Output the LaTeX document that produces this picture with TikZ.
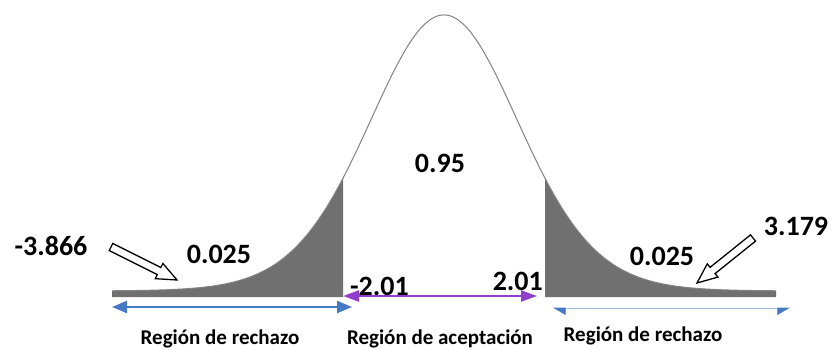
\documentclass[tikz,border=0pt]{standalone}
\usepackage{fontspec}
\setmainfont{Carlito}
\usetikzlibrary{arrows.meta,calc}
\definecolor{tailgray}{RGB}{112,112,112}
\definecolor{edge}{RGB}{130,130,130}
\definecolor{bluearr}{RGB}{70,120,195}
\definecolor{lightblue}{RGB}{150,190,230}
\definecolor{purplearr}{RGB}{146,62,204}
\tikzset{
  bigtxt/.style={inner sep=0pt, font=\fontsize{28}{28}\selectfont\bfseries},
  regtxt/.style={inner sep=0pt, anchor=base, font=\fontsize{21}{21}\selectfont\bfseries},
  hollow/.style={draw=black, fill=white, line width=1.3pt, line join=miter},
  declare function={bell(\t)=291-276*exp(-10.5*ln(1+((\t-444)/75.7)^2/20));}
}
\begin{document}
\begin{tikzpicture}[x=1pt,y=-1pt]
\useasboundingbox (0,0) rectangle (833,350);
% shaded tails
\fill[tailgray] (112,297) -- plot[domain=112:343,samples=120] (\x,{bell(\x)}) -- (343,297) -- cycle;
\fill[tailgray] (545,297) -- plot[domain=545:776,samples=120] (\x,{bell(\x)}) -- (776,297) -- cycle;
% bell outline
\draw[edge, line width=1pt] plot[domain=112:776,samples=300] (\x,{bell(\x)});
% labels
\node[bigtxt, anchor=base] (vl) at (51,255) {-3.866};
\node[bigtxt, anchor=base] (pl) at (219,263) {0.025};
\node[bigtxt, anchor=base] (pc) at (440,172) {0.95};
\node[bigtxt, anchor=base] (vr) at (796,235) {3.179};
\node[bigtxt, anchor=base] (pr) at (662,265) {0.025};
\node[bigtxt, anchor=base east] (cl) at (409,295) {-2.01};
\node[bigtxt, anchor=base east] (cr) at (543,290) {2.01};
\node[regtxt] (rl) at (220,344) {Región de rechazo};
\node[regtxt] (ra) at (440,344) {Región de aceptación};
\node[regtxt] (rr) at (643,341) {Región de rechazo};
% hollow arrows
\coordinate (lS) at (111,247); \coordinate (lT) at (177,280);
\coordinate (rS) at (753,238); \coordinate (rT) at (697,283);
\foreach \S/\T in {lS/lT, rS/rT}{
  \coordinate (H) at ($(\T)!20pt!(\S)$);
  \draw[hollow] (\T) -- ($(H)!8.5pt!90:(\T)$) -- ($(H)!4pt!90:(\T)$) -- ($(\S)!4pt!90:(\T)$)
    -- ($(\S)!4pt!-90:(\T)$) -- ($(H)!4pt!-90:(\T)$) -- ($(H)!8.5pt!-90:(\T)$) -- cycle;
}
% region arrows
\coordinate (bl1) at (112,307); \coordinate (bl2) at (352,307);
\draw[bluearr, line width=2.3pt, {Triangle[length=15pt,width=12pt]}-{Triangle[length=15pt,width=12pt]}] (bl1) -- (bl2);
\coordinate (br1) at (553,308); \coordinate (br2) at (790,308);
\draw[lightblue, line width=0.8pt, {Triangle[length=12pt,width=14pt,harpoon,color=bluearr]}-{Triangle[length=12pt,width=14pt,harpoon,swap,color=bluearr]}] (br1) -- (br2);
\coordinate (pa1) at (343,296); \coordinate (pa2) at (537,296);
\draw[purplearr, line width=2.3pt, {Triangle[length=16pt,width=11pt]}-{Triangle[length=16pt,width=11pt]}] (pa1) -- (pa2);
\end{tikzpicture}
\end{document}
